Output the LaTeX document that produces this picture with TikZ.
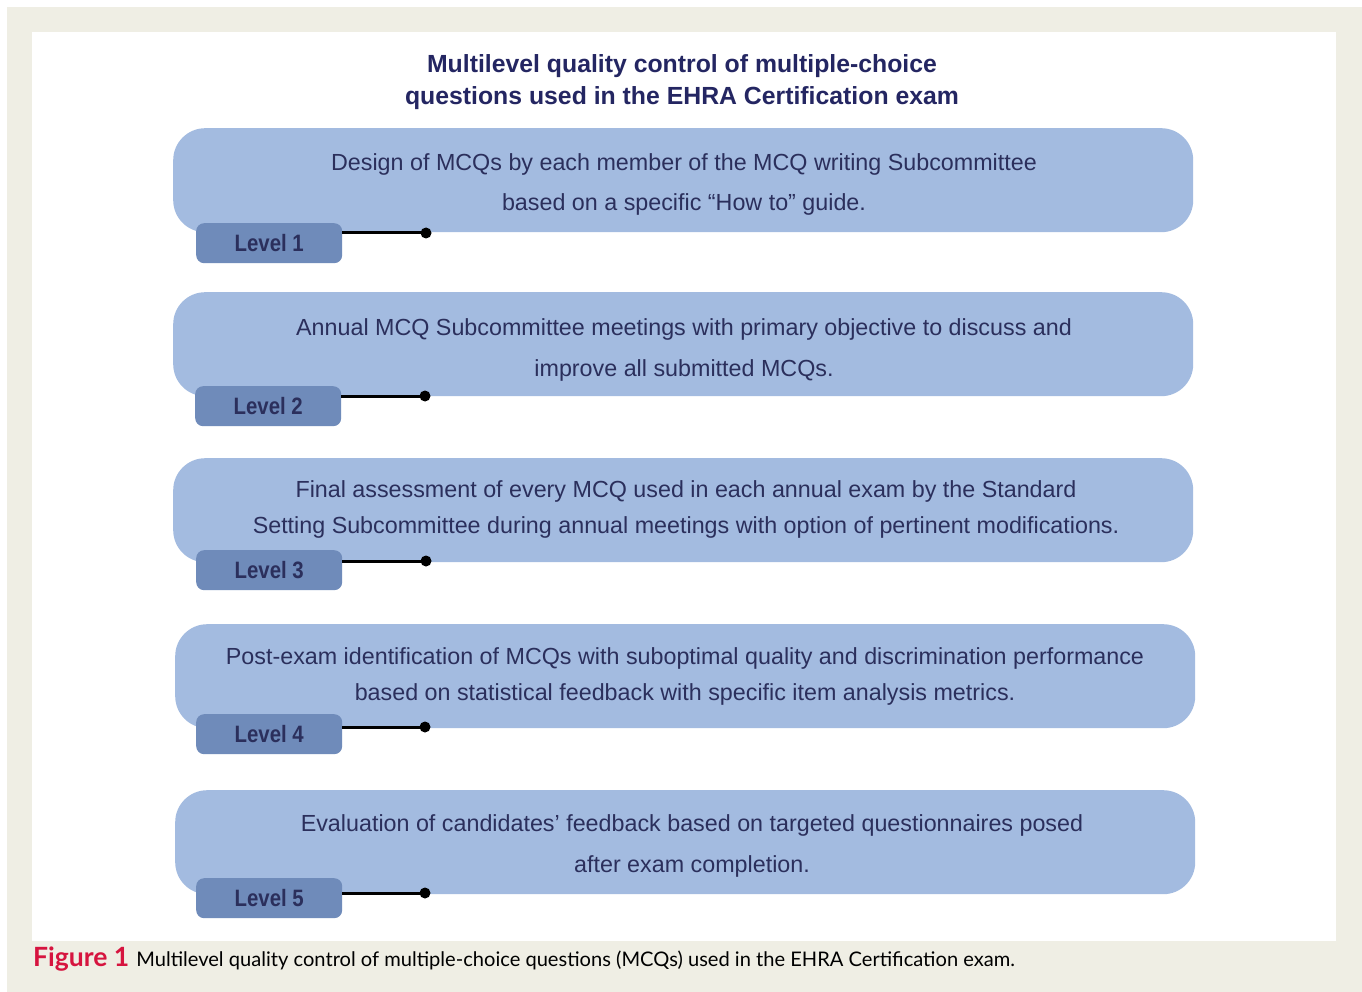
\documentclass[tikz,border=0pt]{standalone}
\usepackage{fontspec}
\setmainfont{Liberation Sans}
\newfontfamily\capfont{Lato}
\definecolor{pagebg}{RGB}{239,238,228}
\definecolor{boxblue}{RGB}{163,187,224}
\definecolor{tagblue}{RGB}{111,139,186}
\definecolor{inkblue}{RGB}{43,47,92}
\definecolor{titleblue}{RGB}{36,38,98}
\definecolor{figred}{RGB}{214,20,63}
\tikzset{
  stagebox/.style={fill=boxblue, draw=none, rounded corners=32pt,
    minimum width=1020pt, minimum height=104pt, anchor=north west},
  stagetext/.style={text=inkblue, align=center, inner sep=0pt,
    font=\fontsize{23.3}{40}\selectfont},
  leveltag/.style={fill=tagblue, draw=none, rounded corners=8pt,
    minimum width=146pt, minimum height=40pt, anchor=north west,
    text=inkblue, font=\fontsize{23.7}{24}\selectfont\bfseries},
  pin/.style={line width=3pt, black},
  pindot/.style={circle, fill=black, inner sep=0pt, minimum size=11pt},
}
\newcommand{\tagtext}[1]{\raisebox{-1.5pt}{\scalebox{0.86}[1]{#1}}}
\begin{document}
\begin{tikzpicture}[x=1pt,y=-1pt]
  % page and panel
  \useasboundingbox (0,0) rectangle (1362,992);
  \fill[pagebg] (7,7) rectangle (1362,992);
  \fill[white] (32,32) rectangle (1336,941);

  % heading
  \node[text=titleblue, align=center, font=\fontsize{24.8}{32}\selectfont\bfseries]
    (title) at (682,82) {Multilevel quality control of multiple-choice\\questions used in the EHRA Certification exam};

  % level 1
  \node[stagebox] (s1) at (173,128) {};
  \node[stagetext] (b1) at (684,184) {Design of MCQs by each member of the MCQ writing Subcommittee\\based on a specific “How to” guide.};
  \node[leveltag] (t1) at (196,223) {\tagtext{Level 1}};
  \node[pindot] (d1) at (426,233) {};
  \draw[pin] (t1.east |- d1) -- (d1.center);

  % level 2
  \node[stagebox] (s2) at (173,292) {};
  \node[stagetext, font=\fontsize{23.3}{41}\selectfont] (b2) at (684,350) {Annual MCQ Subcommittee meetings with primary objective to discuss and\\improve all submitted MCQs.};
  \node[leveltag] (t2) at (195,386) {\tagtext{Level 2}};
  \node[pindot] (d2) at (425,396) {};
  \draw[pin] (t2.east |- d2) -- (d2.center);

  % level 3
  \node[stagebox] (s3) at (173,458) {};
  \node[stagetext, font=\fontsize{23.3}{36}\selectfont] (b3) at (686,509) {Final assessment of every MCQ used in each annual exam by the Standard\\Setting Subcommittee during annual meetings with option of pertinent modifications.};
  \node[leveltag] (t3) at (196,550) {\tagtext{Level 3}};
  \node[pindot] (d3) at (426,561) {};
  \draw[pin] (t3.east |- d3) -- (d3.center);

  % level 4
  \node[stagebox] (s4) at (175,624) {};
  \node[stagetext, font=\fontsize{23.3}{36}\selectfont] (b4) at (685,676) {Post-exam identification of MCQs with suboptimal quality and discrimination performance\\based on statistical feedback with specific item analysis metrics.};
  \node[leveltag] (t4) at (196,714) {\tagtext{Level 4}};
  \node[pindot] (d4) at (425,727) {};
  \draw[pin] (t4.east |- d4) -- (d4.center);

  % level 5
  \node[stagebox] (s5) at (175,790) {};
  \node[stagetext, font=\fontsize{23.3}{41}\selectfont] (b5) at (692,846) {Evaluation of candidates’ feedback based on targeted questionnaires posed\\after exam completion.};
  \node[leveltag] (t5) at (196,878) {\tagtext{Level 5}};
  \node[pindot] (d5) at (425,893) {};
  \draw[pin] (t5.east |- d5) -- (d5.center);

  % caption
  \node[anchor=base west, inner sep=0pt, font=\capfont\fontsize{20.1}{24}\selectfont] (cap) at (33,966)
    {{\color{figred}\fontsize{26.5}{24}\selectfont\bfseries Figure 1}\hspace{7pt}Multilevel quality control of multiple-choice questions (MCQs) used in the EHRA Certification exam.};
\end{tikzpicture}
\end{document}
